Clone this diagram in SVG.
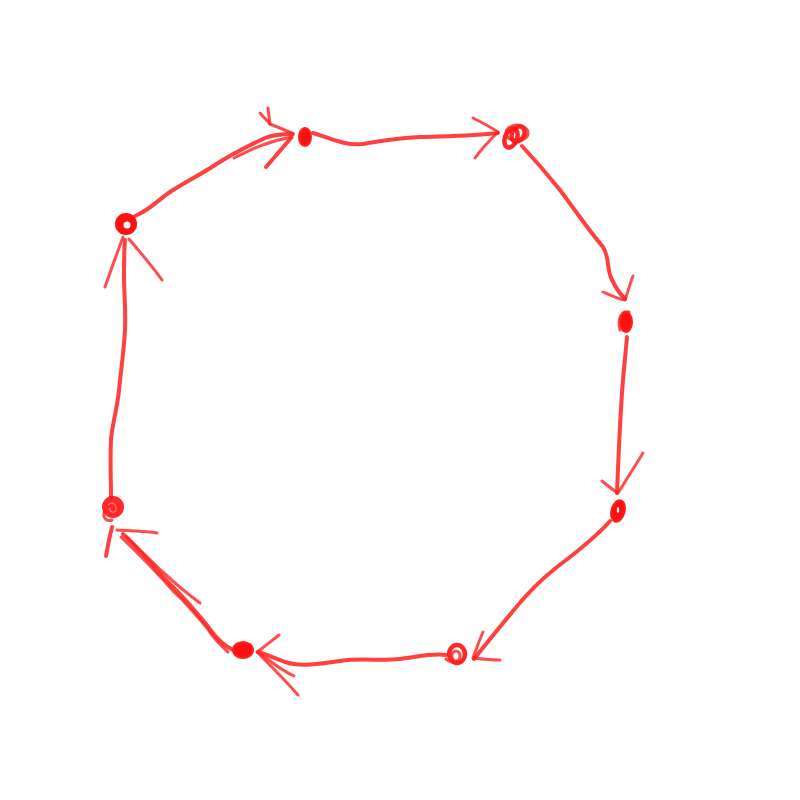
<svg xmlns="http://www.w3.org/2000/svg" width="800" height="800" viewBox="0 0 800 800">
<style>
.s{fill:none;stroke:#ff1f1f;stroke-width:4;stroke-linecap:round;stroke-linejoin:round;stroke-opacity:0.85}
.t{fill:none;stroke:#ff1f1f;stroke-width:3;stroke-linecap:round;stroke-linejoin:round;stroke-opacity:0.8}
.b{fill:none;stroke:#ff1010;stroke-width:4.5;stroke-linecap:round;stroke-opacity:0.9}
.f{fill:#ff1010;stroke:#ff1f1f;stroke-width:2}
</style>
<rect width="800" height="800" fill="#ffffff"/>
<g id="connectors">
  <path class="s" d="M135,216 C150,210 158,200 170,192 C185,182 200,175 215,165 C232,154 250,145 265,138 C275,134 285,134 293,134"/>
  <path class="t" d="M260,113 L270,124 L292,133"/>
  <path class="t" d="M268,108 L270,124"/>
  <path class="t" d="M234,158 C250,150 265,142 292,137"/>
  <path class="s" d="M266,167 L291,138"/>
  <path class="s" d="M313,133 C330,138 345,146 362,144 C380,141 395,138 420,137 C450,136 475,136 498,133"/>
  <path class="t" d="M473,118 C485,124 492,128 498,132 C490,140 482,148 475,158"/>
  <path class="s" d="M522,146 C535,160 548,175 560,190 C575,210 590,232 603,247 C610,258 606,268 612,280 C616,288 620,294 625,299"/>
  <path class="t" d="M603,292 C612,296 618,299 625,300 C628,292 630,283 633,276"/>
  <path class="s" d="M627,337 C625,360 622,385 621,410 C619,440 618,470 617,493"/>
  <path class="t" d="M602,481 C608,486 613,490 618,493 C626,480 635,466 643,453"/>
  <path class="s" d="M610,521 C598,535 585,545 570,557 C555,568 540,580 525,597 C510,614 495,633 474,659"/>
  <path class="t" d="M483,632 C479,641 476,650 473,658 C482,659 491,660 500,660"/>
  <path class="s" d="M446,655 C430,653 418,657 400,659 C380,661 360,658 340,661 C320,664 300,667 285,662 C275,658 265,654 258,652"/>
  <path class="t" d="M279,635 C270,642 263,648 257,652 C270,665 285,680 298,695"/>
  <path class="t" d="M262,655 C275,665 285,672 294,676"/>
  <path class="s" d="M233,650 C225,646 218,640 212,632 C205,622 198,615 190,605 C178,592 166,580 155,568 C145,556 133,544 123,534"/>
  <path class="t" d="M228,652 C220,645 212,636 207,628 C196,615 185,602 174,592 C160,576 145,560 121,537"/>
  <path class="t" d="M127,537 C150,560 175,585 200,603"/>
  <path class="s" d="M106,556 C108,545 110,535 112,527"/>
  <path class="t" d="M117,530 C130,531 145,531 157,533"/>
  <path class="s" d="M111,497 C111,480 110,460 111,440 C112,425 117,410 119,390 C121,370 124,350 125,330 C126,310 124,295 124,275 C124,262 124,250 125,240"/>
  <path class="t" d="M105,287 C111,270 117,253 123,237"/>
  <path class="t" d="M162,280 C152,266 140,252 129,239"/>
</g>
<g id="n1">
  <ellipse class="f" cx="305" cy="137" rx="6" ry="9"/>
</g>
<g id="n2">
  <ellipse class="b" cx="511" cy="138" rx="6" ry="10" transform="rotate(20 511 138)"/>
  <ellipse class="b" cx="518" cy="134" rx="6" ry="8" transform="rotate(30 518 134)"/>
  <ellipse class="t" cx="517" cy="133" rx="11" ry="8"/>
</g>
<g id="n3">
  <ellipse class="f" cx="626" cy="322" rx="6" ry="10"/>
  <path class="t" d="M620,330 C617,318 622,310 629,312"/>
</g>
<g id="n4">
  <ellipse class="f" cx="618" cy="511" rx="6.5" ry="11" transform="rotate(15 618 511)"/>
  <ellipse cx="618" cy="510" rx="1.2" ry="3" fill="#ffffff"/>
</g>
<g id="n5">
  <ellipse class="b" cx="457" cy="654" rx="8" ry="9"/>
  <ellipse class="t" cx="456" cy="656" rx="4" ry="5"/>
  <path class="t" d="M446,659 C450,662 455,664 462,661"/>
</g>
<g id="n6">
  <ellipse class="f" cx="243" cy="650" rx="10" ry="8"/>
</g>
<g id="n7">
  <circle cx="113" cy="507" r="11" fill="#ff1010" fill-opacity="0.9"/>
  <path d="M108,505 C112,501 117,504 116,510 C114,514 109,512 110,508" fill="none" stroke="#ff8080" stroke-width="1.2"/>
  <path class="t" d="M104,513 C103,518 107,522 112,520"/>
</g>
<g id="n8">
  <circle cx="126" cy="224" r="11" fill="#ff1010"/>
  <circle cx="127" cy="225" r="3.5" fill="#ffffff"/>
</g>
</svg>
